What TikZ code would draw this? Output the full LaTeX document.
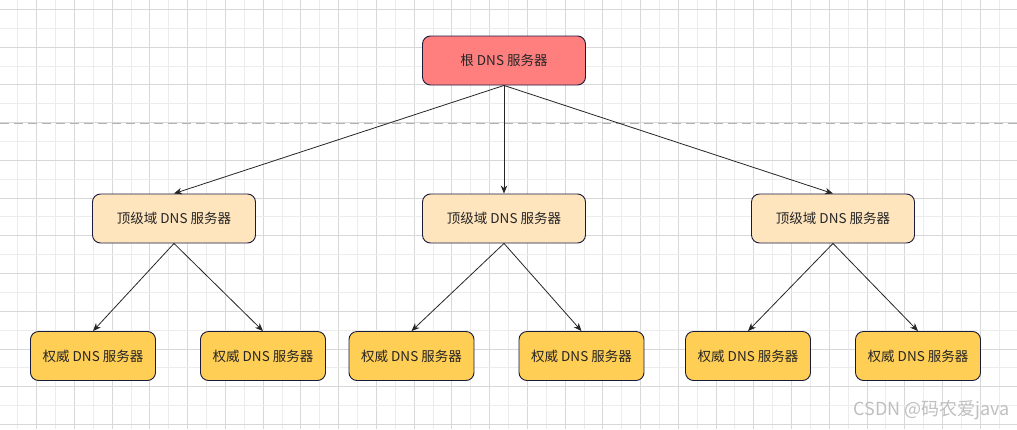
\documentclass[tikz,border=0pt]{standalone}
\usepackage{fontspec}
\setmainfont{Noto Sans CJK SC}
\usetikzlibrary{arrows.meta}
\definecolor{edgeblue}{RGB}{26,26,60}
\definecolor{rootfill}{RGB}{255,127,127}
\definecolor{tldfill}{RGB}{255,229,190}
\definecolor{authfill}{RGB}{255,206,84}
\definecolor{gridmin}{RGB}{236,236,236}
\definecolor{gridmaj}{RGB}{216,216,216}
\tikzset{
  box/.style={draw=edgeblue, line width=0.9pt, rounded corners=8pt, minimum height=49pt,
     inner sep=0pt, font=\fontsize{13.5}{16}\selectfont, text=black!85},
  rootbox/.style={box, fill=rootfill, minimum width=163pt},
  tldbox/.style={box, fill=tldfill, minimum width=163pt},
  authbox/.style={box, fill=authfill, minimum width=125pt},
  link/.style={draw=black!85, line width=0.8pt, -{Stealth[length=8pt,width=6.5pt,inset=2.5pt]}},
}
\begin{document}
\begin{tikzpicture}[x=1pt,y=-1pt]
\useasboundingbox (0,0) rectangle (1017,429);
\fill[white] (0,0) rectangle (1017,429);
% grid
\foreach \k in {0,...,54}{
  \pgfmathsetmacro{\xx}{-1.07+18.87*\k}
  \pgfmathtruncatemacro{\odd}{mod(\k,2)}
  \ifnum\odd=1 \draw[gridmin, line width=0.8pt] (\xx,0) -- (\xx,429);
  \else \draw[gridmaj, line width=0.8pt] (\xx,0) -- (\xx,429); \fi
}
\foreach \k in {0,...,22}{
  \pgfmathsetmacro{\yy}{9.3+18.87*\k}
  \pgfmathtruncatemacro{\odd}{mod(\k,2)}
  \ifnum\odd=1 \draw[gridmin, line width=0.8pt] (0,\yy) -- (1017,\yy);
  \else \draw[gridmaj, line width=0.8pt] (0,\yy) -- (1017,\yy); \fi
}
% dashed separator
\coordinate (dl) at (0,123);
\coordinate (dr) at (1017,123);
\draw[black!30, line width=1pt, dash pattern=on 9pt off 5pt] (dl) -- (dr);

% nodes
\node[rootbox] (root) at (504,60.5) {根 DNS 服务器};
\node[tldbox] (t1) at (174,218.5) {顶级域 DNS 服务器};
\node[tldbox] (t2) at (504,218.5) {顶级域 DNS 服务器};
\node[tldbox] (t3) at (833,218.5) {顶级域 DNS 服务器};
\node[authbox] (a1) at (93,356) {权威 DNS 服务器};
\node[authbox] (a2) at (263,356) {权威 DNS 服务器};
\node[authbox] (a3) at (411.5,356) {权威 DNS 服务器};
\node[authbox] (a4) at (581.5,356) {权威 DNS 服务器};
\node[authbox] (a5) at (748,356) {权威 DNS 服务器};
\node[authbox] (a6) at (918,356) {权威 DNS 服务器};

% edges
\foreach \c in {t1,t2,t3} \draw[link] (root.south) -- (\c.north);
\draw[link] (t1.south) -- (a1.north);
\draw[link] (t1.south) -- (a2.north);
\draw[link] (t2.south) -- (a3.north);
\draw[link] (t2.south) -- (a4.north);
\draw[link] (t3.south) -- (a5.north);
\draw[link] (t3.south) -- (a6.north);

% watermark
\node[anchor=east, text=black!25, font=\fontsize{18}{20}\selectfont, inner sep=0pt] (wm) at (1010,410) {CSDN @码农爱java};
\end{tikzpicture}
\end{document}
